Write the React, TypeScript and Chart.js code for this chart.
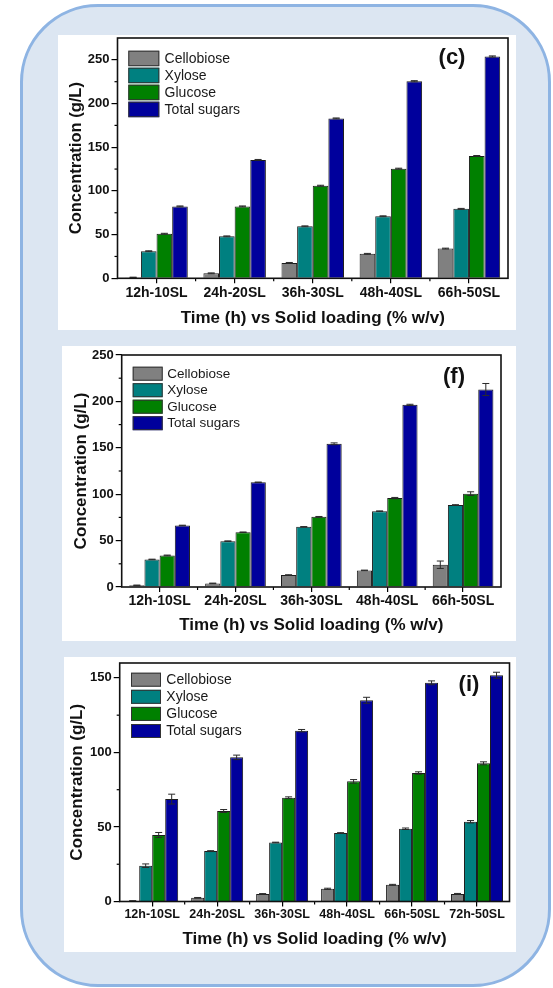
import React, { useEffect, useRef } from 'react';
import { Chart, registerables } from 'chart.js';

Chart.register(...registerables);

const FONT = "'Liberation Sans', Arial, Helvetica, sans-serif";

// ---------- data ----------
const seriesLabels = ['Cellobiose', 'Xylose', 'Glucose', 'Total sugars'];
const seriesColors = ['#808080', '#008080', '#008000', '#00009c'];

const categories5 = ['12h-10SL', '24h-20SL', '36h-30SL', '48h-40SL', '66h-50SL'];
const categories6 = ['12h-10SL', '24h-20SL', '36h-30SL', '48h-40SL', '66h-50SL', '72h-50SL'];

// panel (c)
const cCellobiose = [1, 5.7, 17.6, 28, 34];
const cXylose = [31, 48, 59.5, 71, 79.5];
const cGlucose = [51, 82.3, 106, 125.5, 140];
const cTotal = [82.3, 135.5, 183, 225.5, 253.8];
const cCellobioseErr = [0.3, 0.5, 0.5, 0.5, 0.5];
const cXyloseErr = [0.5, 0.5, 0.5, 0.5, 0.5];
const cGlucoseErr = [0.5, 0.5, 0.5, 0.5, 0.5];
const cTotalErr = [0.5, 0.5, 0.5, 0.7, 0.7];

// panel (f)
const fCellobiose = [1.8, 3.9, 12.9, 17.9, 24];
const fXylose = [29.7, 49.4, 64.8, 81.7, 88.3];
const fGlucose = [34, 59, 75.6, 95.8, 100.6];
const fTotal = [66.3, 112.8, 154.3, 196.3, 212.8];
const fCellobioseErr = [0.3, 0.3, 0.3, 0.3, 4];
const fXyloseErr = [0.3, 0.3, 0.3, 0.3, 0.4];
const fGlucoseErr = [0.4, 0.3, 0.4, 0.7, 2];
const fTotalErr = [0.3, 0.3, 1, 0.6, 6.5];

// panel (i)
const iCellobiose = [0.4, 2.5, 5.1, 8.5, 11.2, 5.1];
const iXylose = [24, 33.8, 39.6, 45.9, 48.8, 53.5];
const iGlucose = [44.6, 60.7, 69.6, 80.6, 86.2, 92.7];
const iTotal = [68.7, 96.7, 114.6, 135, 146.7, 151.8];
const iCellobioseErr = [0.1, 0.2, 0.2, 0.4, 0.3, 0.3];
const iXyloseErr = [1.2, 0.3, 0.2, 0.3, 0.5, 0.8];
const iGlucoseErr = [1.7, 1, 0.6, 1.2, 0.8, 1];
const iTotalErr = [3.3, 1.5, 0.8, 2, 1.3, 2];

const yTitle = 'Concentration (g/L)';
const xTitle = 'Time (h) vs Solid loading (% w/v)';

// ---------- layout ----------
type Geo = {
  left: number; top: number; width: number; height: number;
  plotL: number; plotR: number; plotT: number; plotB: number;
  yMax: number; xFont: number; yFont: number;
  yTitleX: number; yTitleFont: number; xTitleY: number; xTitleFont: number;
  legX: number; legY: number; legPitch: number; legW: number; legH: number; legGap: number; legFont: number;
  tagDX: number; tagDY: number; tagFont: number;
};

type PanelProps = {
  labels: string[];
  values: number[][];
  errors: number[][];
  tag: string;
  geo: Geo;
};

function ChartPanel({ labels, values, errors, tag, geo }: PanelProps) {
  const ref = useRef<HTMLCanvasElement | null>(null);
  useEffect(() => {
    const canvas = ref.current;
    if (!canvas) return;
    const g = geo;
    const yTitleLH = g.yTitleFont * 1.2;
    const xTitleLH = g.xTitleFont * 1.2;

    const overlay = {
      id: 'overlay',
      afterDraw(chart: any) {
        const ctx = chart.ctx;
        const a = chart.chartArea;
        const xs = chart.scales.x;
        const ys = chart.scales.y;
        ctx.save();
        // error bars
        ctx.strokeStyle = '#2a2a2a';
        ctx.lineWidth = 1;
        chart.data.datasets.forEach((ds: any, di: number) => {
          const meta = chart.getDatasetMeta(di);
          const errs = errors[di];
          meta.data.forEach((el: any, j: number) => {
            const v = ds.data[j];
            const e = errs[j];
            const yt = ys.getPixelForValue(v + e);
            const yb = ys.getPixelForValue(Math.max(v - e, 0));
            const x = el.x;
            ctx.beginPath();
            ctx.moveTo(x, yt);
            ctx.lineTo(x, yb);
            ctx.moveTo(x - 3.5, yt);
            ctx.lineTo(x + 3.5, yt);
            ctx.moveTo(x - 3.5, yb);
            ctx.lineTo(x + 3.5, yb);
            ctx.stroke();
          });
        });
        // minor y ticks
        ctx.strokeStyle = '#000';
        ctx.lineWidth = 1.2;
        for (let v = 25; v < g.yMax; v += 50) {
          const y = ys.getPixelForValue(v);
          ctx.beginPath();
          ctx.moveTo(a.left - 3, y);
          ctx.lineTo(a.left, y);
          ctx.stroke();
        }
        // minor x ticks at category boundaries
        const n = labels.length;
        const w = (a.right - a.left) / n;
        for (let i = 1; i < n; i++) {
          const x = a.left + i * w;
          ctx.beginPath();
          ctx.moveTo(x, a.bottom);
          ctx.lineTo(x, a.bottom + 3);
          ctx.stroke();
        }
        // frame
        ctx.lineWidth = 1.6;
        ctx.strokeStyle = '#111';
        ctx.strokeRect(a.left, a.top, a.right - a.left, a.bottom - a.top);
        // legend
        ctx.font = `${g.legFont}px ${FONT}`;
        ctx.textAlign = 'left';
        ctx.textBaseline = 'middle';
        chart.data.datasets.forEach((ds: any, di: number) => {
          const bx = a.left + g.legX;
          const by = a.top + g.legY + di * g.legPitch;
          ctx.fillStyle = ds.backgroundColor;
          ctx.fillRect(bx, by, g.legW, g.legH);
          ctx.lineWidth = 1;
          ctx.strokeStyle = '#333';
          ctx.strokeRect(bx + 0.5, by + 0.5, g.legW - 1, g.legH - 1);
          ctx.fillStyle = '#1a1a1a';
          ctx.fillText(ds.label, bx + g.legW + g.legGap, by + g.legH / 2 + 0.5);
        });
        // tag
        ctx.font = `bold ${g.tagFont}px ${FONT}`;
        ctx.textAlign = 'center';
        ctx.fillStyle = '#111';
        ctx.fillText(tag, a.right - g.tagDX, a.top + g.tagDY);
        ctx.restore();
      },
    };

    const chart = new Chart(canvas, {
      type: 'bar',
      data: {
        labels,
        datasets: values.map((vals, i) => ({
          label: seriesLabels[i],
          data: vals,
          backgroundColor: seriesColors[i],
          borderColor: '#1c1c1c',
          borderWidth: 1,
          categoryPercentage: 0.8,
          barPercentage: 1.0,
        })),
      },
      options: {
        responsive: false,
        animation: false,
        devicePixelRatio: 1,
        layout: { padding: { left: 0, right: g.width - g.plotR, top: g.plotT, bottom: 0 } },
        plugins: { legend: { display: false }, tooltip: { enabled: false }, title: { display: false } },
        scales: {
          x: {
            type: 'category',
            offset: true,
            grid: { display: true, drawOnChartArea: false, drawTicks: true, tickLength: 5, color: '#000', lineWidth: 1.2, offset: false },
            border: { display: false },
            ticks: { color: '#111', padding: 1, maxRotation: 0, autoSkip: false, font: { family: FONT, size: g.xFont, weight: 'bold' } },
            title: {
              display: true, text: xTitle, color: '#111',
              font: { family: FONT, size: g.xTitleFont, weight: 'bold', lineHeight: 1.2 },
              padding: { top: 0, bottom: g.height - g.xTitleY - xTitleLH / 2 },
            },
            afterFit: (s: any) => { s.height = g.height - g.plotB; s.paddingLeft = 0; s.paddingRight = 0; },
          },
          y: {
            type: 'linear',
            min: 0,
            max: g.yMax,
            grid: { display: true, drawOnChartArea: false, drawTicks: true, tickLength: 6, color: '#000', lineWidth: 1.2 },
            border: { display: false },
            ticks: { stepSize: 50, includeBounds: false, color: '#111', padding: 2, font: { family: FONT, size: g.yFont, weight: 'bold' } },
            title: {
              display: true, text: yTitle, color: '#111',
              font: { family: FONT, size: g.yTitleFont, weight: 'bold', lineHeight: 1.2 },
              padding: { top: g.yTitleX - yTitleLH / 2, bottom: 0 },
            },
            afterFit: (s: any) => { s.width = g.plotL; s.paddingTop = 0; s.paddingBottom = 0; },
          },
        },
      },
      plugins: [overlay],
    } as any);
    return () => chart.destroy();
  }, [labels, values, errors, tag, geo]);

  return (
    <div style={{ position: 'absolute', left: geo.left, top: geo.top, width: geo.width, height: geo.height, background: '#ffffff' }}>
      <canvas ref={ref} width={Math.round(geo.width)} height={geo.height} style={{ display: 'block', width: Math.round(geo.width), height: geo.height }} />
    </div>
  );
}

const geoC: Geo = {
  left: 58, top: 35, width: 458, height: 295,
  plotL: 59.5, plotR: 450, plotT: 3, plotB: 243.3,
  yMax: 275, xFont: 14, yFont: 13,
  yTitleX: 18, yTitleFont: 16.5, xTitleY: 283, xTitleFont: 17,
  legX: 10.8, legY: 12.7, legPitch: 17, legW: 31, legH: 15.5, legGap: 5.3, legFont: 14,
  tagDX: 56, tagDY: 20, tagFont: 22,
};

const geoF: Geo = {
  left: 62, top: 346, width: 454, height: 295,
  plotL: 59.7, plotR: 439, plotT: 9, plotB: 241,
  yMax: 250, xFont: 14, yFont: 13,
  yTitleX: 19, yTitleFont: 17, xTitleY: 279, xTitleFont: 17,
  legX: 11, legY: 11.7, legPitch: 16.5, legW: 30, legH: 14, legGap: 4.6, legFont: 13.5,
  tagDX: 47, tagDY: 21.5, tagFont: 22,
};

const geoI: Geo = {
  left: 63.5, top: 657, width: 452.5, height: 295,
  plotL: 55.7, plotR: 445, plotT: 6, plotB: 244.5,
  yMax: 160, xFont: 12.5, yFont: 13,
  yTitleX: 13.2, yTitleFont: 17, xTitleY: 282.3, xTitleFont: 17,
  legX: 11.3, legY: 9.7, legPitch: 17.1, legW: 30, legH: 14, legGap: 5.3, legFont: 14,
  tagDX: 40.5, tagDY: 22, tagFont: 22,
};

const valuesC = [cCellobiose, cXylose, cGlucose, cTotal];
const errorsC = [cCellobioseErr, cXyloseErr, cGlucoseErr, cTotalErr];
const valuesF = [fCellobiose, fXylose, fGlucose, fTotal];
const errorsF = [fCellobioseErr, fXyloseErr, fGlucoseErr, fTotalErr];
const valuesI = [iCellobiose, iXylose, iGlucose, iTotal];
const errorsI = [iCellobioseErr, iXyloseErr, iGlucoseErr, iTotalErr];

export default function App() {
  return (
    <div style={{ position: 'absolute', left: 0, top: 0, width: 553, height: 988, background: '#ffffff', overflow: 'hidden' }}>
      <div
        style={{
          position: 'absolute', left: 20, top: 4, width: 531, height: 983,
          boxSizing: 'border-box', border: '3px solid #8eb4e3', borderRadius: 78,
          background: '#dce6f2',
        }}
      />
      <ChartPanel labels={categories5} values={valuesC} errors={errorsC} tag="(c)" geo={geoC} />
      <ChartPanel labels={categories5} values={valuesF} errors={errorsF} tag="(f)" geo={geoF} />
      <ChartPanel labels={categories6} values={valuesI} errors={errorsI} tag="(i)" geo={geoI} />
    </div>
  );
}
